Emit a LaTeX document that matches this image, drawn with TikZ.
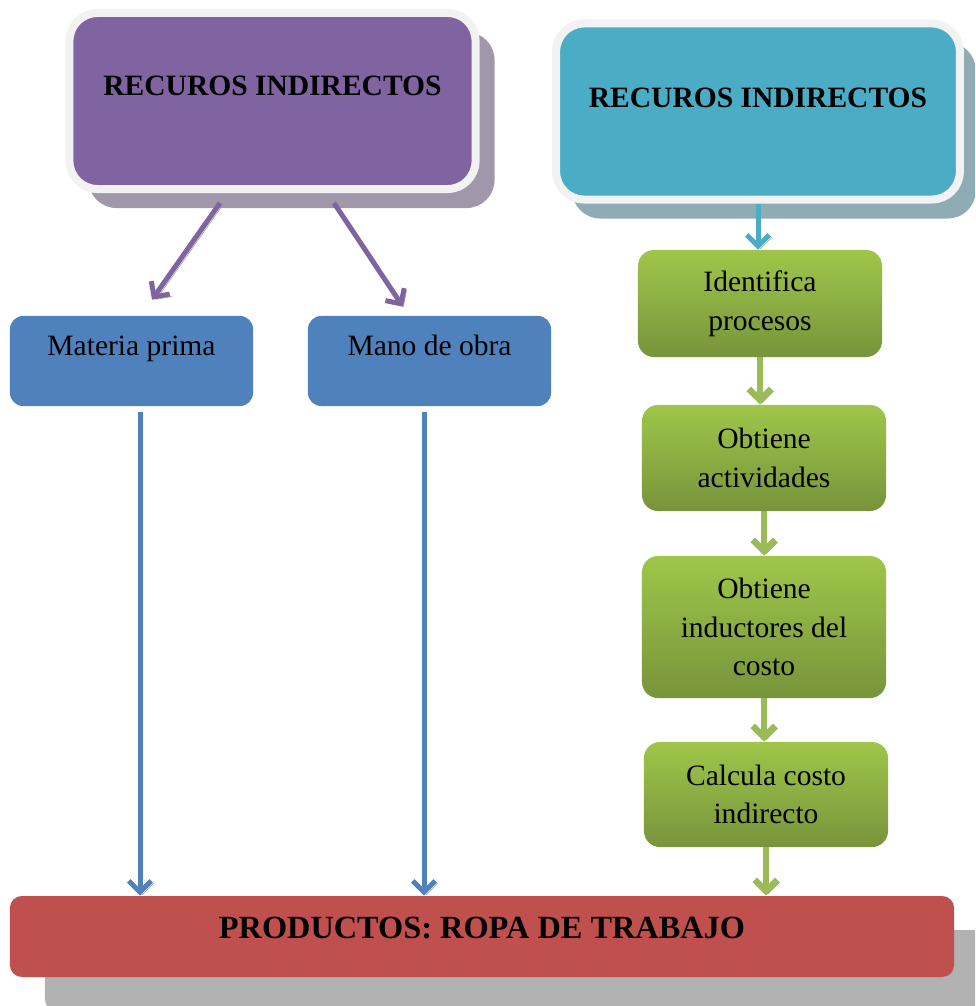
\documentclass[tikz,border=0pt]{standalone}
\usepackage{fontspec}
\setmainfont{Liberation Serif}
\usetikzlibrary{arrows.meta,calc,shadows}
\definecolor{morado}{HTML}{8064A2}
\definecolor{moradosombra}{HTML}{A098AA}
\definecolor{celeste}{HTML}{4BACC6}
\definecolor{celestesombra}{HTML}{8FACB5}
\definecolor{azul}{HTML}{4F81BD}
\definecolor{verdeclaro}{HTML}{9FC64A}
\definecolor{verdeoscuro}{HTML}{77943B}
\definecolor{verdeflecha}{HTML}{9BBB59}
\definecolor{rojo}{HTML}{C0504D}
\definecolor{gris}{HTML}{B2B2B2}
\definecolor{borde}{HTML}{F2F2F2}

\begin{document}
\begin{tikzpicture}[x=0.025cm,y=-0.025cm,
    titulo/.style={rounded corners=0.7cm, draw=borde, line width=0.2cm,
        minimum width=10.15cm, minimum height=4.4cm, inner sep=0pt,
        font=\fontsize{21}{25}\selectfont\bfseries, text height=13pt},
    caja/.style={rounded corners=0.33cm, fill=azul, minimum width=6.075cm,
        minimum height=2.25cm, inner sep=0pt, font=\fontsize{21}{25}\selectfont,
        text height=13pt, text depth=21.5pt},
    paso/.style={rounded corners=0.4cm, top color=verdeclaro, bottom color=verdeoscuro,
        minimum width=6.1cm, inner sep=0pt, align=center,
        font=\fontsize{21}{27.5}\selectfont},
    flecha/.style={line width=#1, -{Straight Barb[length=8pt,width=16pt]},
        preaction={draw=black!40, transform canvas={xshift=0.06cm,yshift=-0.06cm}}},
    flecha/.default=0.125cm]
    \useasboundingbox (0,0) rectangle (975,1006);
    \clip (0,0) rectangle (975,1006);

    \node[titulo, fill=morado, text depth=21.5pt,
        drop shadow={shadow xshift=0.475cm, shadow yshift=-0.475cm, fill=moradosombra, opacity=1}]
        (indA) at (272.5,101) {RECUROS INDIRECTOS};
    \node[titulo, fill=celeste, minimum width=10.09cm, text depth=19.4pt,
        drop shadow={shadow xshift=0.4cm, shadow yshift=-0.475cm, fill=celestesombra, opacity=1}]
        (indB) at (758,111.5) {RECUROS INDIRECTOS};

    \node[caja] (mp) at (131.5,361) {Materia prima};
    \node[caja] (mo) at (429.5,361) {Mano de obra};

    \node[paso, minimum height=2.675cm] (ident) at (760,303.5) {Identifica\\procesos};
    \node[paso, minimum height=2.65cm] (activ) at (764,458) {Obtiene\\actividades};
    \node[paso, minimum height=3.55cm] (induc) at (764,627) {Obtiene\\inductores del\\costo};
    \node[paso, minimum height=2.625cm] (calc) at (766,794.5) {Calcula costo\\indirecto};

    \node[rounded corners=0.3cm, fill=rojo, minimum width=23.6cm, minimum height=2.025cm,
        inner sep=0pt, font=\fontsize{23}{27}\selectfont\bfseries,
        text height=15pt, text depth=12pt,
        drop shadow={shadow xshift=0.875cm, shadow yshift=-0.85cm, fill=gris, opacity=1}]
        (prod) at (482,936.5) {PRODUCTOS: ROPA DE TRABAJO};

    \coordinate (mpa) at ($(mp.south)+(8.5,6)$);
    \coordinate (moa) at ($(mo.south)+(-5.5,6)$);
    \draw[flecha, azul] (mpa) -- (mpa |- prod.north);
    \draw[flecha, azul] (moa) -- (moa |- prod.north);

    \draw[flecha, morado] ($(indA.south)+(-52.5,10)$) -- ($(mp.north)+(20.5,-16)$);
    \draw[flecha, morado] ($(indA.south)+(61.5,10)$) -- ($(mo.north)+(-26.5,-9)$);

    \draw[flecha, celeste] (indB.south) -- (indB.south |- ident.north);

    \draw[flecha=0.16cm, verdeflecha] (ident.south) -- (ident.south |- activ.north);
    \draw[flecha=0.16cm, verdeflecha] (activ.south) -- (activ.south |- induc.north);
    \draw[flecha=0.16cm, verdeflecha] (induc.south) -- (induc.south |- calc.north);
    \draw[flecha=0.16cm, verdeflecha] (calc.south) -- (calc.south |- prod.north);
\end{tikzpicture}
\end{document}
